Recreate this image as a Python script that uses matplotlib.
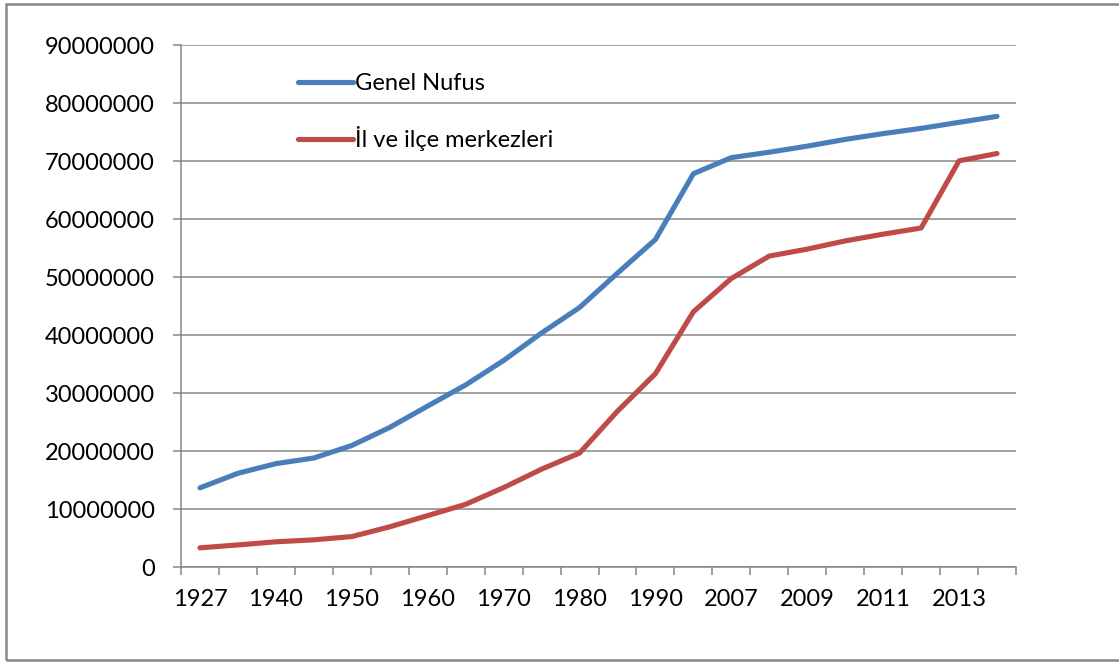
import matplotlib
matplotlib.use("Agg")
import matplotlib.pyplot as plt
from matplotlib.patches import Rectangle

years = ["1927", "1935", "1940", "1945", "1950", "1955", "1960", "1965", "1970", "1975",
         "1980", "1985", "1990", "2000", "2007", "2008", "2009", "2010", "2011", "2012",
         "2013", "2014"]
genel_nufus = [13648270, 16158018, 17820950, 18790174, 20947188, 24064763, 27754820,
               31391421, 35605176, 40347719, 44736957, 50664458, 56473035, 67803927,
               70586256, 71517100, 72561312, 73722988, 74724269, 75627384, 76667864,
               77695904]
il_ilce = [3305879, 3802642, 4346249, 4687102, 5244337, 6927343, 8859731, 10805817,
           13691101, 16869068, 19645007, 26865757, 33326351, 44006274, 49747859,
           53611723, 54807219, 56222356, 57385706, 58448431, 70034413, 71286182]
series_names = ["Genel Nufus", "İl ve ilçe merkezleri"]
yticks = list(range(0, 90000001, 10000000))

plt.rcParams['font.family'] = ['Lato', 'DejaVu Sans']
FS = 17

fig = plt.figure(figsize=(11.19, 6.62), dpi=100)
ax = fig.add_axes([181/1119, 1-567/662, (1016-181)/1119, (567-45)/662])

x = list(range(len(years)))
ax.plot(x, genel_nufus, color="#4A7EBB", lw=3.7, label=series_names[0], solid_capstyle="round", zorder=3)
ax.plot(x, il_ilce, color="#BE4B48", lw=3.7, label=series_names[1], solid_capstyle="round", zorder=3)

ax.set_xlim(-0.5, len(years)-0.5)
ax.set_ylim(0, 90000000)
ax.set_yticks(yticks)
ax.set_yticklabels([str(v) for v in yticks], fontsize=FS)
ax.set_xticks(x[::2])
ax.set_xticklabels(years[::2], fontsize=FS)
ax.set_xticks([i-0.5 for i in range(len(years)+1)], minor=True)

grid_c = "#868686"
ax.yaxis.grid(True, color=grid_c, lw=1.1)
ax.set_axisbelow(True)
for s in ["top", "right"]:
    ax.spines[s].set_visible(False)
for s in ["left", "bottom"]:
    ax.spines[s].set_color(grid_c)
    ax.spines[s].set_linewidth(1.1)
ax.tick_params(axis="y", direction="out", length=6, width=1.1, color=grid_c, pad=13)
ax.tick_params(axis="x", which="major", length=0, pad=16)
ax.tick_params(axis="x", which="minor", direction="out", length=5.5, width=1.1, color=grid_c)

leg = ax.legend(loc="upper left", bbox_to_anchor=((289-181)/835, 1-(64-45)/522),
                frameon=False, fontsize=FS, handlelength=2.3, handletextpad=0.1,
                labelspacing=1.35, borderaxespad=0)

fig.patches.append(Rectangle((6/1119, 2/662), 1.2, 1-6/662, transform=fig.transFigure,
                             fill=False, edgecolor="#888888", lw=1.8))

fig.savefig("out.png", dpi=100)
